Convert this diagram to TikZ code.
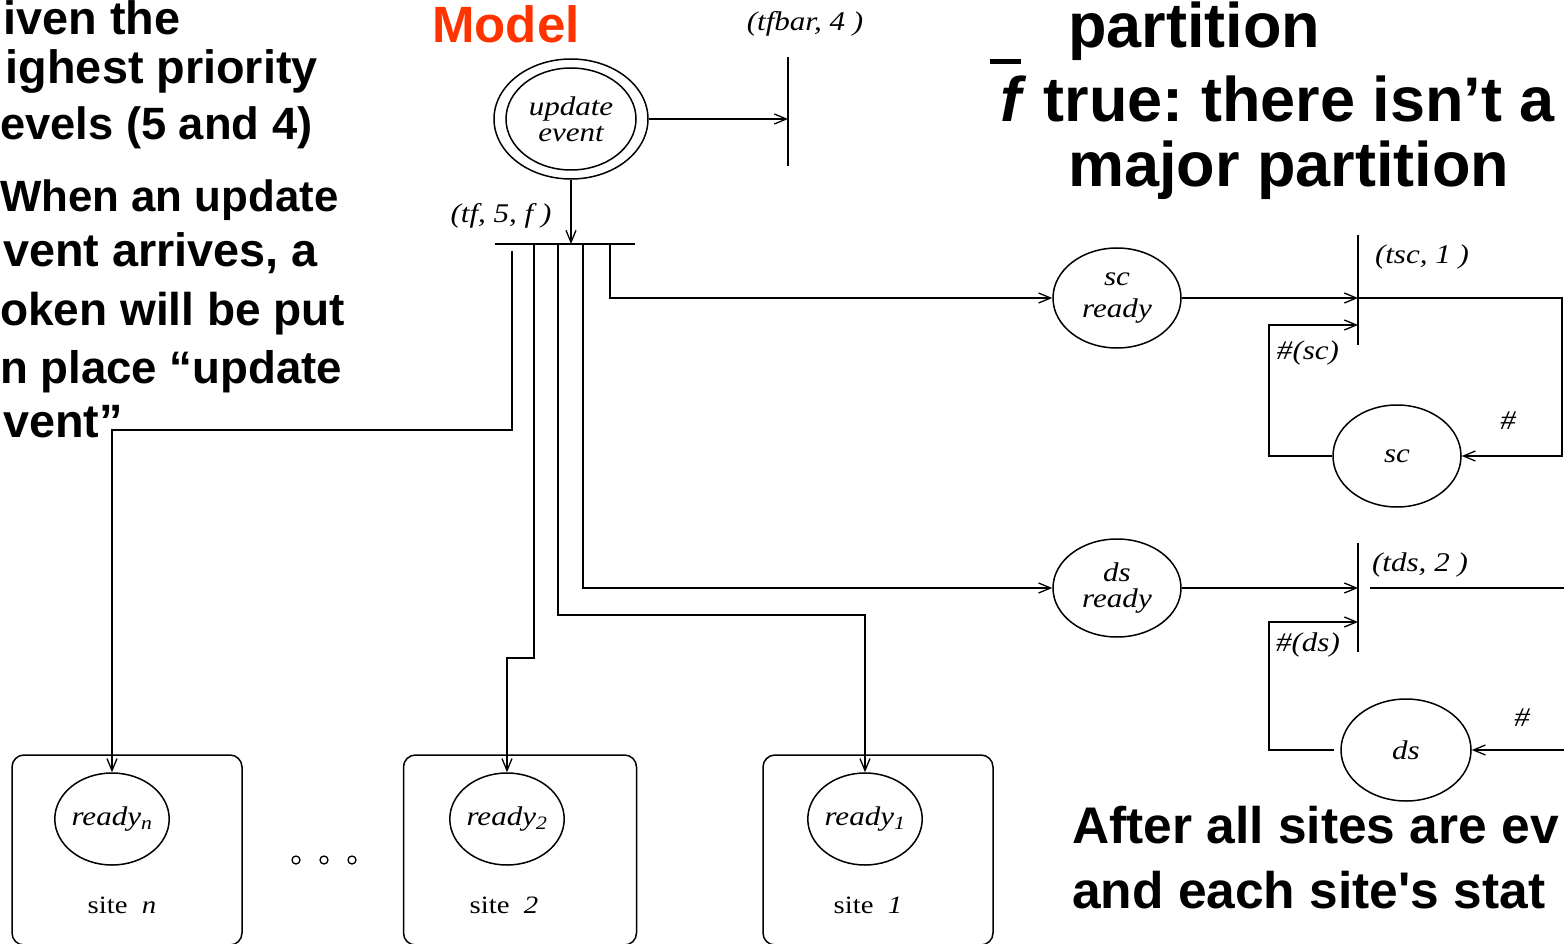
\documentclass[tikz,border=0pt]{standalone}
\usepackage{fontspec}
\usetikzlibrary{shapes.geometric,arrows.meta}
\newfontfamily\slidefont{Liberation Sans}
\newfontfamily\diafont[FakeStretch=1.15]{Liberation Serif}
\definecolor{modelred}{RGB}{255,51,0}
\frenchspacing
\begin{document}
\begin{tikzpicture}[x=1pt,y=-1pt,
  line/.style={line width=1.5pt},
  arr/.style={line width=1.5pt,-{Straight Barb[length=12pt,width=10pt,line width=1.3pt]}},
  place/.style={ellipse,draw,line width=1.5pt,inner sep=0pt},
  lbl/.style={font=\diafont\itshape\fontsize{27}{29}\selectfont,inner sep=0pt},
  sitelbl/.style={font=\diafont\fontsize{25}{27}\selectfont,inner sep=0pt},
  sitebox/.style={draw,line width=1.5pt,rounded corners=12pt,minimum height=190pt,inner sep=0pt},
  slide/.style={font=\slidefont\bfseries\fontsize{46.8}{56}\selectfont,anchor=base west,inner sep=0pt},
  big/.style={font=\slidefont\bfseries\fontsize{63}{70}\selectfont,anchor=base west,inner sep=0pt},
  after/.style={font=\slidefont\bfseries\fontsize{51.5}{56}\selectfont,anchor=base west,inner sep=0pt},
  dotmark/.style={circle,draw,line width=1.3pt,minimum size=8pt,inner sep=0pt}
]
\useasboundingbox (0,0) rectangle (1564,944);
\clip (0,0) rectangle (1564,944);

% ---- slide texts ----
\node[slide] (l1) at (3.4,35) {iven the};
\node[slide] (l2) at (5.6,84) {ighest priority};
\node[slide,font=\slidefont\bfseries\fontsize{45.3}{56}\selectfont] (l3) at (0,140) {evels (5 and 4)};
\node[slide,font=\slidefont\bfseries\fontsize{43.8}{56}\selectfont] (l4) at (0,212) {When an update};
\node[slide] (l5) at (3,267) {vent arrives, a};
\node[slide,font=\slidefont\bfseries\fontsize{46}{56}\selectfont] (l6) at (0,325) {oken will be put};
\node[slide,font=\slidefont\bfseries\fontsize{45.6}{56}\selectfont] (l7) at (0,383) {n place “update};
\node[slide] (l8) at (3,437) {vent”};

\node[font=\slidefont\bfseries\fontsize{51}{56}\selectfont,text=modelred,anchor=base west,inner sep=0pt] (model) at (432,43) {Model};

\node[big] (r1) at (1068,48) {partition};
\draw[line width=5pt] (990,62) -- (1021,62);
\node[big] (r2) at (1000,122) {\textit{f} true: there isn’t a};
\node[big] (r3) at (1068,187) {major partition};

\node[after] (a1) at (1072,843) {After all sites are ev};
\node[after] (a2) at (1072,908) {and each site's stat};

% ---- update event and its transitions ----
\node[place,minimum width=154pt,minimum height=120pt] (upd) at (571,119) {};
\node[place,minimum width=130pt,minimum height=102pt,lbl,align=center,font=\diafont\itshape\fontsize{27}{26}\selectfont] (updin) at (571,119) {update\\event};

\coordinate (tfbarT) at (788,57);
\coordinate (tfbarB) at (788,166);
\draw[line] (tfbarT) -- (tfbarB);
\draw[arr] (upd.east) -- (upd.east -| tfbarT);
\node[lbl] (tfbarlbl) at (805,24) {(tfbar, 4 )};

\coordinate (tfL) at (495,244);
\coordinate (tfR) at (635,244);
\draw[line] (tfL) -- (tfR);
\draw[arr] (upd.south) -- (upd.south |- tfL);
\node[lbl] (tflbl) at (501,216) {(tf, 5, f )};

\coordinate (o1) at (512,251);
\coordinate (o2) at (534,244);
\coordinate (o3) at (558,244);
\coordinate (o4) at (583,244);
\coordinate (o5) at (610,244);

% ---- sc part ----
\node[place,minimum width=128pt,minimum height=100pt,lbl,align=center,font=\diafont\itshape\fontsize{27}{32}\selectfont] (scready) at (1117,298) {sc\\ready};
\node[place,minimum width=128pt,minimum height=102pt,lbl] (sc) at (1397,456) {sc};
\coordinate (tscT) at (1358,235);
\coordinate (tscB) at (1358,345);
\coordinate (tscIn2) at (1358,325);
\draw[line] (tscT) -- (tscB);
\draw[arr] (o5) |- (scready.west);
\draw[arr] (scready.east) -- (scready.east -| tscT);
\draw[arr] (sc.west) -| (1269,325) -- (tscIn2);
\draw[arr] (scready.east -| tscT) -- (1562,298) |- (sc.east);
\node[lbl] (tsclbl) at (1422,257) {(tsc, 1 )};
\node[lbl] (hsc) at (1308,353) {\#(sc)};
\node[lbl] (hash1) at (1508,421) {\#};

% ---- ds part ----
\node[place,minimum width=128pt,minimum height=98pt,lbl,align=center,font=\diafont\itshape\fontsize{27}{26}\selectfont] (dsready) at (1117,588) {ds\\ready};
\node[place,minimum width=130pt,minimum height=102pt,lbl] (ds) at (1406,750) {ds};
\coordinate (tdsT) at (1358,543);
\coordinate (tdsB) at (1358,652);
\coordinate (tdsIn2) at (1358,622);
\coordinate (tdsOut) at (1370,588);
\coordinate (tdsFree) at (1570,588);
\coordinate (dsFree) at (1570,750);
\draw[line] (tdsT) -- (tdsB);
\draw[arr] (o4) |- (dsready.west);
\draw[arr] (dsready.east) -- (dsready.east -| tdsT);
\draw[arr] ([xshift=-6pt]ds.west) -| (1269,622) -- (tdsIn2);
\draw[line] (tdsOut) -- (tdsFree);
\draw[arr] (dsFree) -- (ds.east);
\node[lbl] (tdslbl) at (1420,565) {(tds, 2 )};
\node[lbl] (hds) at (1308,645) {\#(ds)};
\node[lbl] (hash2) at (1522,718) {\#};

% ---- sites ----
\node[sitebox,minimum width=230pt] (boxn) at (127,850) {};
\node[sitebox,minimum width=233pt] (box2) at (520,850) {};
\node[sitebox,minimum width=230pt] (box1) at (878,850) {};
\node[place,minimum width=110pt,minimum height=92pt,lbl] (readyn) at (112,819) {ready\textsubscript{n}};
\node[place,minimum width=110pt,minimum height=92pt,lbl] (ready2) at (507,819) {ready\textsubscript{2}};
\node[place,minimum width=110pt,minimum height=92pt,lbl] (ready1) at (865,819) {ready\textsubscript{1}};
\node[sitelbl] (sn) at (122,905) {site~~\textit{n}};
\node[sitelbl] (s2) at (504,905) {site~~\textit{2}};
\node[sitelbl] (s1) at (868,905) {site~~\textit{1}};
\node[dotmark] (d1) at (296,860) {};
\node[dotmark] (d2) at (324,860) {};
\node[dotmark] (d3) at (352,860) {};

\draw[arr] (o1) -- (512,430) -| (readyn.north);
\draw[arr] (o2) -- (534,658) -| (ready2.north);
\draw[arr] (o3) -- (558,615) -| (ready1.north);
\end{tikzpicture}
\end{document}
